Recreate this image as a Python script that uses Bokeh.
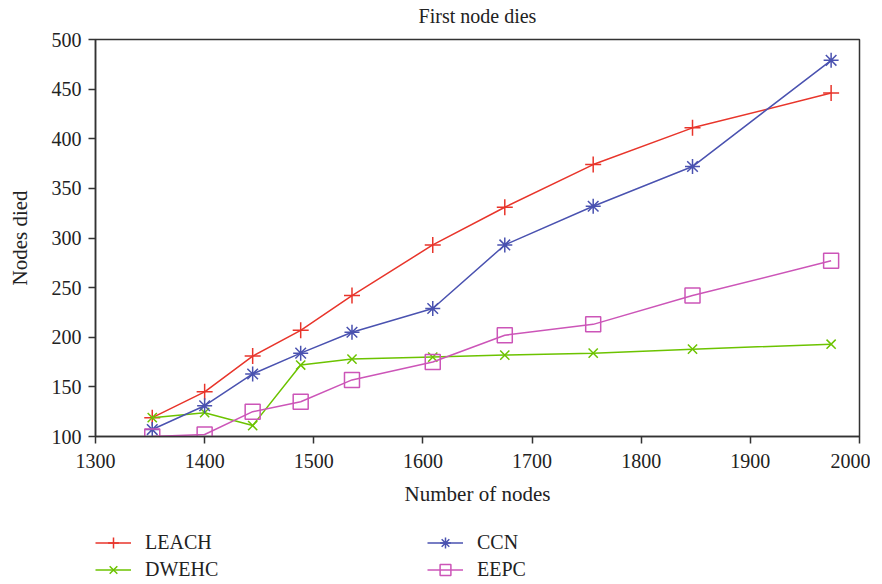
from bokeh.plotting import figure
from bokeh.layouts import column
from bokeh.models import Legend, LegendItem, Range1d, FixedTicker, Label
from bokeh.embed import file_html
from bokeh.resources import INLINE

nodes = [1352, 1400, 1444, 1488, 1535, 1609, 1675, 1756, 1847, 1974]
leach = [119, 145, 181, 207, 242, 293, 331, 374, 411, 446]
ccn = [107, 131, 163, 184, 205, 229, 293, 332, 372, 479]
dwehc = [119, 124, 111, 172, 178, 180, 182, 184, 188, 193]
eepc = [100, 102, 125, 135, 157, 175, 202, 213, 242, 277]

series_names = ["LEACH", "DWEHC", "CCN", "EEPC"]
x_ticks = [1300, 1400, 1500, 1600, 1700, 1800, 1900, 2000]
y_ticks = [100, 150, 200, 250, 300, 350, 400, 450, 500]
title_text = "First node dies"

FONT = "Liberation Serif"
RED = "#e8352b"
BLUE = "#4a52b0"
GREEN = "#6cc300"
MAG = "#cc55b8"


def strip(h):
    f = figure(width=870, height=h, output_backend="svg", toolbar_location=None,
               x_range=Range1d(0, 1), y_range=Range1d(0, 1),
               min_border=0, min_border_left=95, min_border_right=11,
               min_border_top=0, min_border_bottom=0)
    f.axis.visible = False
    f.grid.visible = False
    f.outline_line_color = None
    return f


# Title strip
t = strip(27)
t.add_layout(Label(x=0.5, y=12, x_units="data", y_units="screen", text=title_text,
                   text_align="center", text_baseline="middle", text_font=FONT,
                   text_font_size="20px", text_color="#222222"))

p = figure(width=870, height=481, output_backend="svg", toolbar_location=None,
           x_range=Range1d(1300, 2000), y_range=Range1d(100, 500),
           min_border_left=95, min_border_right=11, min_border_top=12, min_border_bottom=70)

p.xgrid.visible = False
p.ygrid.visible = False
p.outline_line_color = "#333333"
p.outline_line_width = 1.5

for ax in (p.xaxis[0], p.yaxis[0]):
    ax.axis_line_color = "#333333"
    ax.axis_line_width = 1.5
    ax.major_tick_line_color = "#333333"
    ax.major_tick_line_width = 1.5
    ax.major_tick_out = 7
    ax.major_tick_in = 0
    ax.minor_tick_line_color = None
    ax.major_label_text_font = FONT
    ax.major_label_text_font_size = "20px"
    ax.major_label_text_color = "#222222"
    ax.axis_label_text_font = FONT
    ax.axis_label_text_font_size = "21px"
    ax.axis_label_text_font_style = "normal"
    ax.axis_label_text_color = "#222222"

p.xaxis[0].ticker = FixedTicker(ticks=x_ticks)
p.yaxis[0].ticker = FixedTicker(ticks=y_ticks)
p.xaxis[0].axis_label = "Number of nodes"
p.yaxis[0].axis_label = "Nodes died"
p.xaxis[0].major_label_standoff = 10
p.yaxis[0].major_label_standoff = 7
p.xaxis[0].axis_label_standoff = 11
p.yaxis[0].axis_label_standoff = 17

styles = [
    dict(color=RED, marker="cross", size=16),
    dict(color=GREEN, marker="x", size=13),
    dict(color=BLUE, marker="asterisk", size=15),
    dict(color=MAG, marker="square", size=15),
]
data = [leach, dwehc, ccn, eepc]

for ys, st in zip(data, styles):
    p.line(nodes, ys, line_color=st["color"], line_width=1.5)
    p.scatter(nodes, ys, marker=st["marker"], size=st["size"], line_color=st["color"],
              fill_color=None, line_width=1.5)

# Legend strip below (legend glyphs only; its renderers hold no visible data)
q = strip(74)
nan = float("nan")
items = []
for name, st in zip(series_names, styles):
    lr = q.line([nan], [nan], line_color=st["color"], line_width=1.5)
    mr = q.scatter([nan], [nan], marker=st["marker"], size=st["size"], line_color=st["color"],
                   fill_color=None, line_width=1.5)
    items.append(LegendItem(label=name, renderers=[lr, mr]))


def make_legend(its, loc):
    lg = Legend(items=its, location=loc, orientation="vertical")
    lg.border_line_color = None
    lg.background_fill_alpha = 0
    lg.label_text_font = FONT
    lg.label_text_font_size = "20px"
    lg.label_text_color = "#222222"
    lg.glyph_width = 36
    lg.glyph_height = 27
    lg.label_height = 18
    lg.label_standoff = 14
    lg.spacing = 0
    lg.padding = 0
    lg.margin = 0
    return lg


q.add_layout(make_legend(items[:2], (0, -1)))
q.add_layout(make_legend(items[2:], (332, -1)))

layout = column(t, p, q, spacing=0)
open("out.html", "w").write(file_html(layout, INLINE))
